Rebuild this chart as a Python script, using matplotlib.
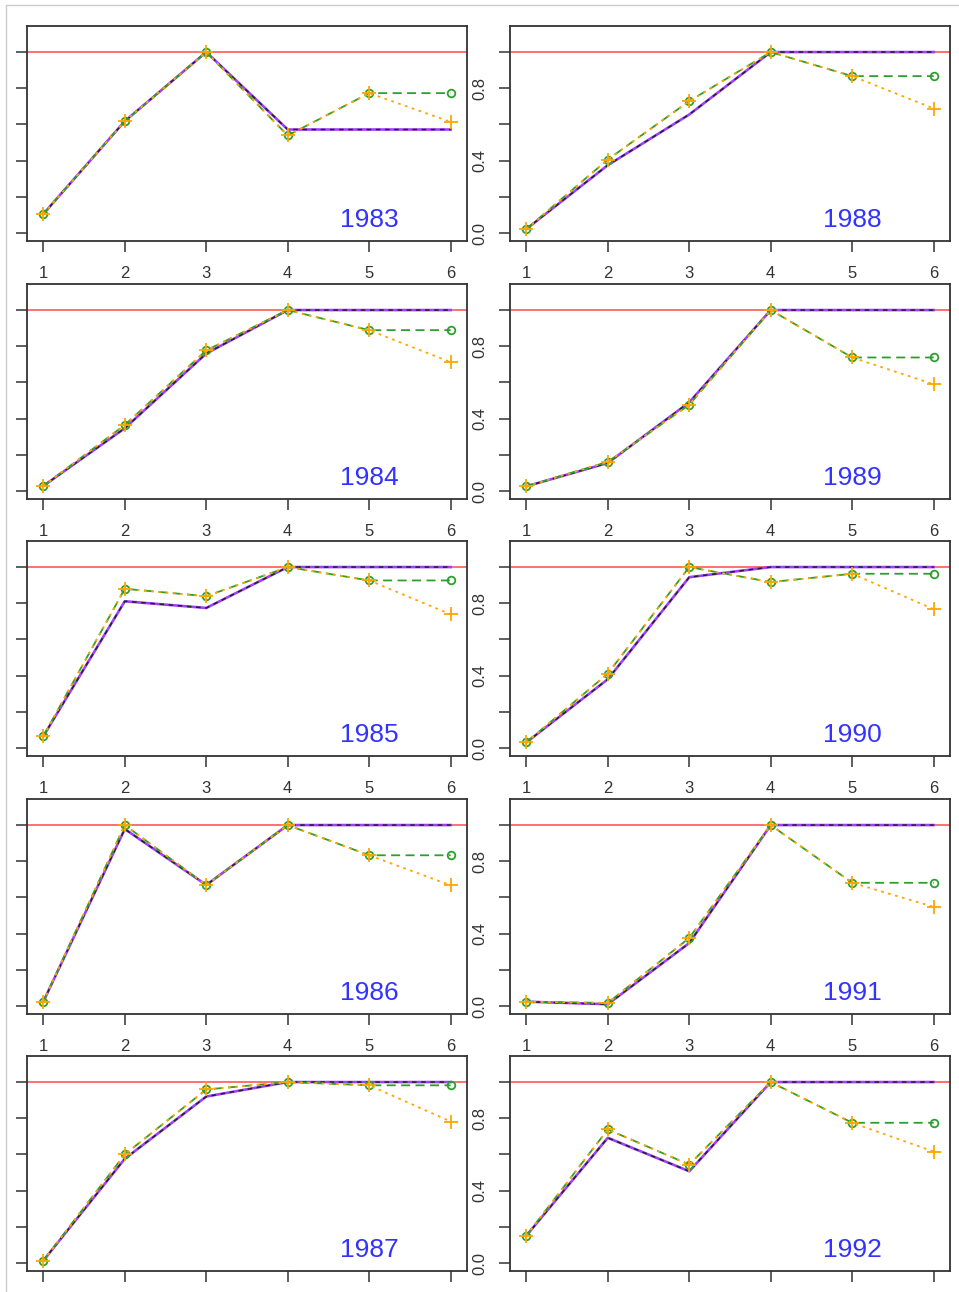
import matplotlib
matplotlib.use("Agg")
import matplotlib.pyplot as plt
from matplotlib.lines import Line2D

plt.rcParams['font.family'] = ['Liberation Sans', 'DejaVu Sans']

# data
years = [1983, 1984, 1985, 1986, 1987, 1988, 1989, 1990, 1991, 1992]
stage = [1, 2, 3, 4, 5, 6]

# purple solid / black dashed series
obs = [
    [0.105, 0.618, 1.000, 0.572, 0.572, 0.572],
    [0.028, 0.347, 0.760, 1.000, 1.000, 1.000],
    [0.065, 0.811, 0.774, 1.000, 1.000, 1.000],
    [0.024, 0.978, 0.669, 1.000, 1.000, 1.000],
    [0.013, 0.576, 0.920, 1.000, 1.000, 1.000],
    [0.022, 0.375, 0.655, 1.000, 1.000, 1.000],
    [0.026, 0.155, 0.490, 1.000, 1.000, 1.000],
    [0.031, 0.380, 0.944, 1.000, 1.000, 1.000],
    [0.024, 0.010, 0.348, 1.000, 1.000, 1.000],
    [0.151, 0.692, 0.507, 1.000, 1.000, 1.000],
]
# green dashed, circles
est_flat = [
    [0.105, 0.618, 1.000, 0.539, 0.773, 0.773],
    [0.028, 0.365, 0.777, 1.000, 0.889, 0.889],
    [0.065, 0.880, 0.839, 1.000, 0.926, 0.926],
    [0.024, 1.000, 0.669, 1.000, 0.833, 0.833],
    [0.013, 0.600, 0.959, 1.000, 0.982, 0.982],
    [0.022, 0.406, 0.729, 1.000, 0.867, 0.867],
    [0.026, 0.161, 0.477, 1.000, 0.738, 0.738],
    [0.031, 0.411, 1.000, 0.917, 0.963, 0.963],
    [0.024, 0.017, 0.376, 1.000, 0.681, 0.681],
    [0.151, 0.738, 0.544, 1.000, 0.775, 0.775],
]
# orange dotted, plus
est_decl = [
    [0.105, 0.618, 1.000, 0.539, 0.773, 0.614],
    [0.028, 0.365, 0.777, 1.000, 0.889, 0.712],
    [0.065, 0.880, 0.839, 1.000, 0.926, 0.739],
    [0.024, 1.000, 0.669, 1.000, 0.833, 0.667],
    [0.013, 0.600, 0.959, 1.000, 0.982, 0.782],
    [0.022, 0.406, 0.729, 1.000, 0.867, 0.688],
    [0.026, 0.161, 0.477, 1.000, 0.738, 0.590],
    [0.031, 0.411, 1.000, 0.917, 0.963, 0.767],
    [0.024, 0.017, 0.376, 1.000, 0.681, 0.548],
    [0.151, 0.738, 0.544, 1.000, 0.775, 0.616],
]
y_ticks = [0.0, 0.2, 0.4, 0.6, 0.8, 1.0]
y_labels = ['0.0', '', '0.4', '', '0.8', '']

W, H = 959, 1292
fig = plt.figure(figsize=(W / 100, H / 100), dpi=100)
fig.patch.set_facecolor('white')

# screenshot frame
fig.add_artist(Line2D([6 / W, 1], [1 - 5 / H, 1 - 5 / H], color='#cccccc', lw=1))
fig.add_artist(Line2D([6 / W, 6 / W], [0, 1 - 5 / H], color='#cccccc', lw=1))

col_x = [27, 510]
row_y = [26, 284, 541, 799, 1056]
pw, ph = 440, 215

for i, yr in enumerate(years):
    col = i // 5
    row = i % 5
    x0 = col_x[col]
    y0 = row_y[row]
    ax = fig.add_axes([x0 / W, 1 - (y0 + ph) / H, pw / W, ph / H])

    ax.axhline(1.0, color='#ff7070', lw=1.4, zorder=1)
    ax.plot(stage, obs[i], color='#a040ff', lw=1.9, zorder=2)
    ax.plot(stage, obs[i], color='#222222', lw=1.1, ls=(0, (3, 3)), zorder=3)
    ax.plot(stage, est_flat[i], color='#2ca02c', lw=1.3, ls=(0, (5, 3)),
            marker='o', ms=5.5, mfc='none', mec='#2ca02c', mew=1.3, zorder=4)
    ax.plot(stage, est_decl[i], color='#ffa500', lw=1.3, ls=(0, (1.5, 2.5)),
            marker='+', ms=10, mew=1.3, zorder=5)

    ax.text(5, 0.07, str(yr), color='#3333ff', fontsize=19, ha='center', va='center')

    ax.set_xlim(0.8, 6.2)
    ax.set_ylim(-0.044, 1.144)
    ax.set_xticks(stage)
    # the bottom row labels fall below the picture in the reference
    if row < 4:
        ax.set_xticklabels([str(s) for s in stage])
    else:
        ax.set_xticklabels([])
    ax.set_yticks(y_ticks)
    if col == 1:
        ax.set_yticklabels(y_labels, rotation=90, va='center')
    else:
        ax.set_yticklabels([])

    ax.tick_params(direction='out', length=8, width=1.1, colors='#333333',
                   labelsize=12, labelcolor='#333333')
    ax.tick_params(axis='x', pad=10)
    ax.tick_params(axis='y', pad=8)
    for sp in ax.spines.values():
        sp.set_linewidth(1.3)
        sp.set_color('#333333')

fig.savefig('out.png', dpi=100)
